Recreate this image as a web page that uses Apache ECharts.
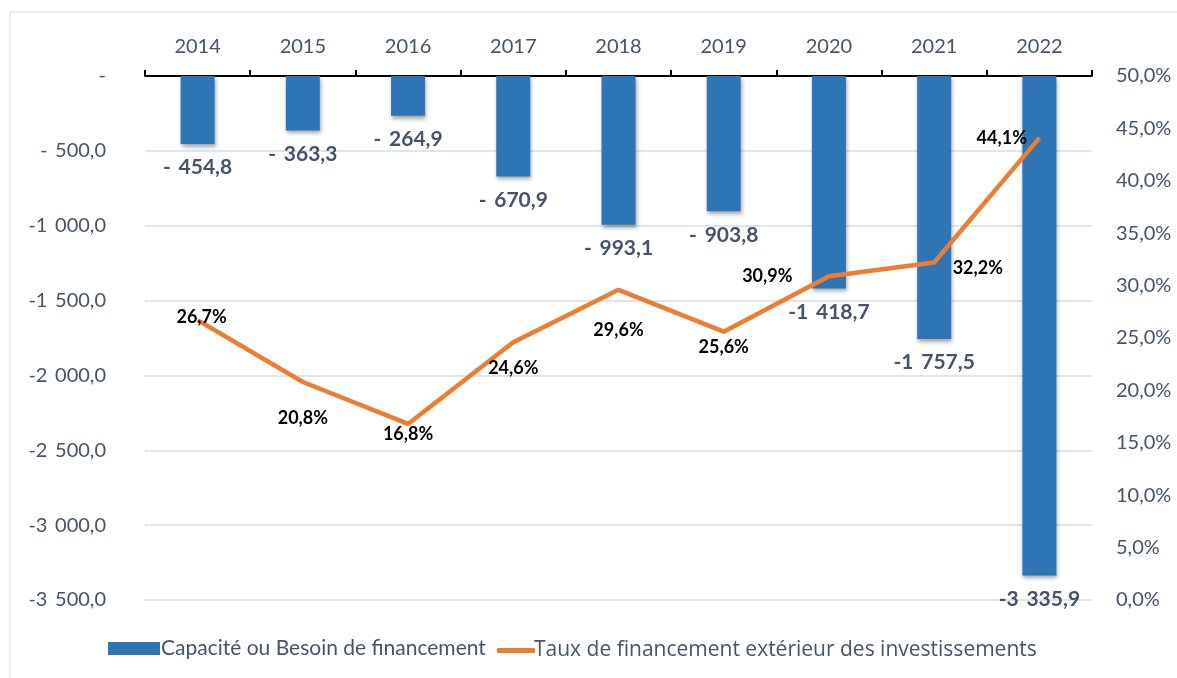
<!DOCTYPE html>
<html>
<head>
<meta charset="utf-8">
<script src="https://cdn.jsdelivr.net/npm/echarts@6/dist/echarts.min.js"></script>
<style>html,body{margin:0;padding:0;background:#fff}#container{width:1177px;height:678px}</style>
</head>
<body>
<div id="container"></div>
<script>
var years = ['2014','2015','2016','2017','2018','2019','2020','2021','2022'];
var besoin = [-454.8, -363.3, -264.9, -670.9, -993.1, -903.8, -1418.7, -1757.5, -3335.9];
var taux = [26.7, 20.8, 16.8, 24.6, 29.6, 25.6, 30.9, 32.2, 44.1];
// where each percentage label sits around its point
var tauxLabelPos = ['top', 'bottom', 'bottom', 'bottom', 'bottom', 'bottom', 'left', 'right', 'left'];
var tauxLabelDist = [-7, 27, 1, 16, 31, 6, 36, 18, 12];
var tauxLabelOff = [[4, 0], [0, 0], [0, 0], [0, 0], [0, 0], [0, 0], [0, 0], [0, 6], [0, 0]];

var textColor = '#44546a';
var font = 'Lato';
var gap = ' \u2009';

function fmtNum(v) {
    if (v === 0) return '-';
    var a = Math.abs(v).toFixed(1).split('.');
    var intPart = a[0].replace(/\B(?=(\d{3})+(?!\d))/g, gap);
    var s = intPart + ',' + a[1];
    return Math.abs(v) < 1000 ? '-' + gap + s : '-' + s;
}

var dom = document.getElementById('container');
var myChart = echarts.init(dom);
var option = {
    animation: false,
    textStyle: { fontFamily: font },
    graphic: [{
        type: 'rect',
        shape: { x: 10, y: 12, width: 1200, height: 700 },
        style: { fill: 'none', stroke: '#d9d9d9', lineWidth: 1 }
    }],
    grid: { left: 145, right: 85, top: 76, bottom: 78 },
    legend: [{
        left: 103, bottom: 14,
        itemWidth: 52, itemHeight: 13, icon: 'rect',
        data: ['Capacité ou Besoin de financement'],
        textStyle: { color: textColor, fontSize: 21, fontFamily: font, padding: [0, 0, 0, -4] }
    }, {
        left: 492, bottom: 12,
        itemWidth: 38, itemHeight: 5, icon: 'roundRect',
        data: ['Taux de financement extérieur des investissements'],
        textStyle: { color: textColor, fontSize: 21, fontFamily: 'Open Sans', padding: [0, 0, 0, -6] }
    }],
    xAxis: {
        type: 'category',
        position: 'top',
        data: years,
        axisLine: { lineStyle: { color: '#000', width: 2 } },
        axisTick: { show: true, length: 6, lineStyle: { color: '#000', width: 2 } },
        axisLabel: { color: textColor, fontSize: 20, margin: 19 }
    },
    yAxis: [{
        type: 'value',
        min: -3500, max: 0, interval: 500,
        axisLine: { show: false },
        axisTick: { show: false },
        splitLine: { lineStyle: { color: '#e1e4ea', width: 2 } },
        axisLabel: { color: textColor, fontSize: 20, margin: 39, formatter: fmtNum }
    }, {
        type: 'value',
        min: 0, max: 50, interval: 5,
        axisLine: { show: false },
        axisTick: { show: false },
        splitLine: { show: false },
        axisLabel: {
            color: textColor, fontSize: 20, margin: 24,
            formatter: function (v) { return v.toFixed(1).replace('.', ',') + '%'; }
        }
    }],
    series: [{
        name: 'Capacité ou Besoin de financement',
        type: 'bar',
        yAxisIndex: 0,
        barWidth: 34,
        data: besoin,
        itemStyle: {
            color: '#2e75b6',
            shadowColor: 'rgba(0,0,0,0.35)', shadowBlur: 4, shadowOffsetX: 1, shadowOffsetY: 3
        },
        label: {
            show: true, position: 'bottom', distance: 13,
            color: textColor, fontSize: 21, fontWeight: 'bold',
            formatter: function (p) { return fmtNum(p.value); }
        }
    }, {
        name: 'Taux de financement extérieur des investissements',
        type: 'line',
        yAxisIndex: 1,
        symbol: 'circle', symbolSize: 1,
        lineStyle: { color: '#ed7d31', width: 4.5 },
        itemStyle: { color: '#ed7d31' },
        data: taux.map(function (v, i) {
            return {
                value: v,
                label: { position: tauxLabelPos[i], distance: tauxLabelDist[i], offset: tauxLabelOff[i] }
            };
        }),
        label: {
            show: true, color: '#000', fontSize: 18, fontWeight: 'bold',
            formatter: function (p) { return p.value.toFixed(1).replace('.', ',') + '%'; }
        }
    }]
};
myChart.setOption(option);
</script>
</body>
</html>
